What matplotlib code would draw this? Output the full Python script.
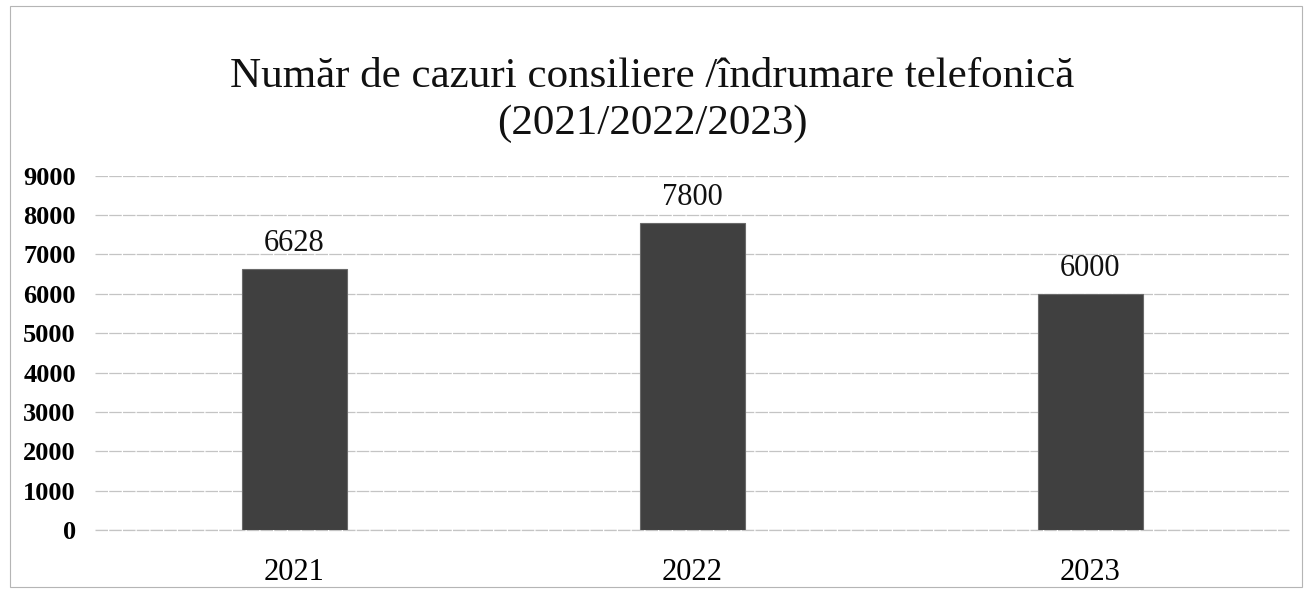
import matplotlib.pyplot as plt
import matplotlib.patches as mpatches

years = ['2021', '2022', '2023']
cases = [6628, 7800, 6000]
y_ticks = [0, 1000, 2000, 3000, 4000, 5000, 6000, 7000, 8000, 9000]

plt.rcParams['font.family'] = ['Liberation Serif', 'DejaVu Serif']

fig = plt.figure(figsize=(13.05, 5.96), dpi=100)
ax = fig.add_axes([0.073, 0.111, 0.915, 0.594])

xs = range(len(years))
bars = ax.bar(xs, cases, width=0.265, color='#404040', edgecolor='#6a6a6a',
              linewidth=0.8, zorder=3)

for b, v in zip(bars, cases):
    ax.text(b.get_x() + b.get_width() / 2, v + 280, str(v),
            ha='center', va='bottom', fontsize=22, color='#111111')

ax.set_xlim(-0.5, 2.5)
ax.set_ylim(0, 9000)
ax.set_yticks(y_ticks)
ax.set_yticklabels([str(t) for t in y_ticks], fontsize=19, fontweight='bold')
ax.set_xticks(list(xs))
ax.set_xticklabels(years, fontsize=22)
ax.tick_params(axis='both', length=0)
ax.tick_params(axis='x', pad=20)
ax.tick_params(axis='y', pad=14)

ax.grid(axis='y', color='#c4c4c4', linewidth=0.9, linestyle=(0, (10, 1)), zorder=0)
ax.axhline(0, color='#c4c4c4', linewidth=0.9, linestyle=(0, (10, 1)), zorder=1, clip_on=False)
for s in ax.spines.values():
    s.set_visible(False)

fig.text(0.5, 0.832, 'Număr de cazuri consiliere /îndrumare telefonică\n(2021/2022/2023)',
         ha='center', va='center', fontsize=31, linespacing=1.3, color='#111111')

# scanned page frame
fig.patches.append(mpatches.Rectangle((0.008, 0.015), 0.99, 0.975,
                                      transform=fig.transFigure, fill=False,
                                      edgecolor='#b5b5b5', linewidth=0.8))

fig.savefig('out.png', dpi=100)
